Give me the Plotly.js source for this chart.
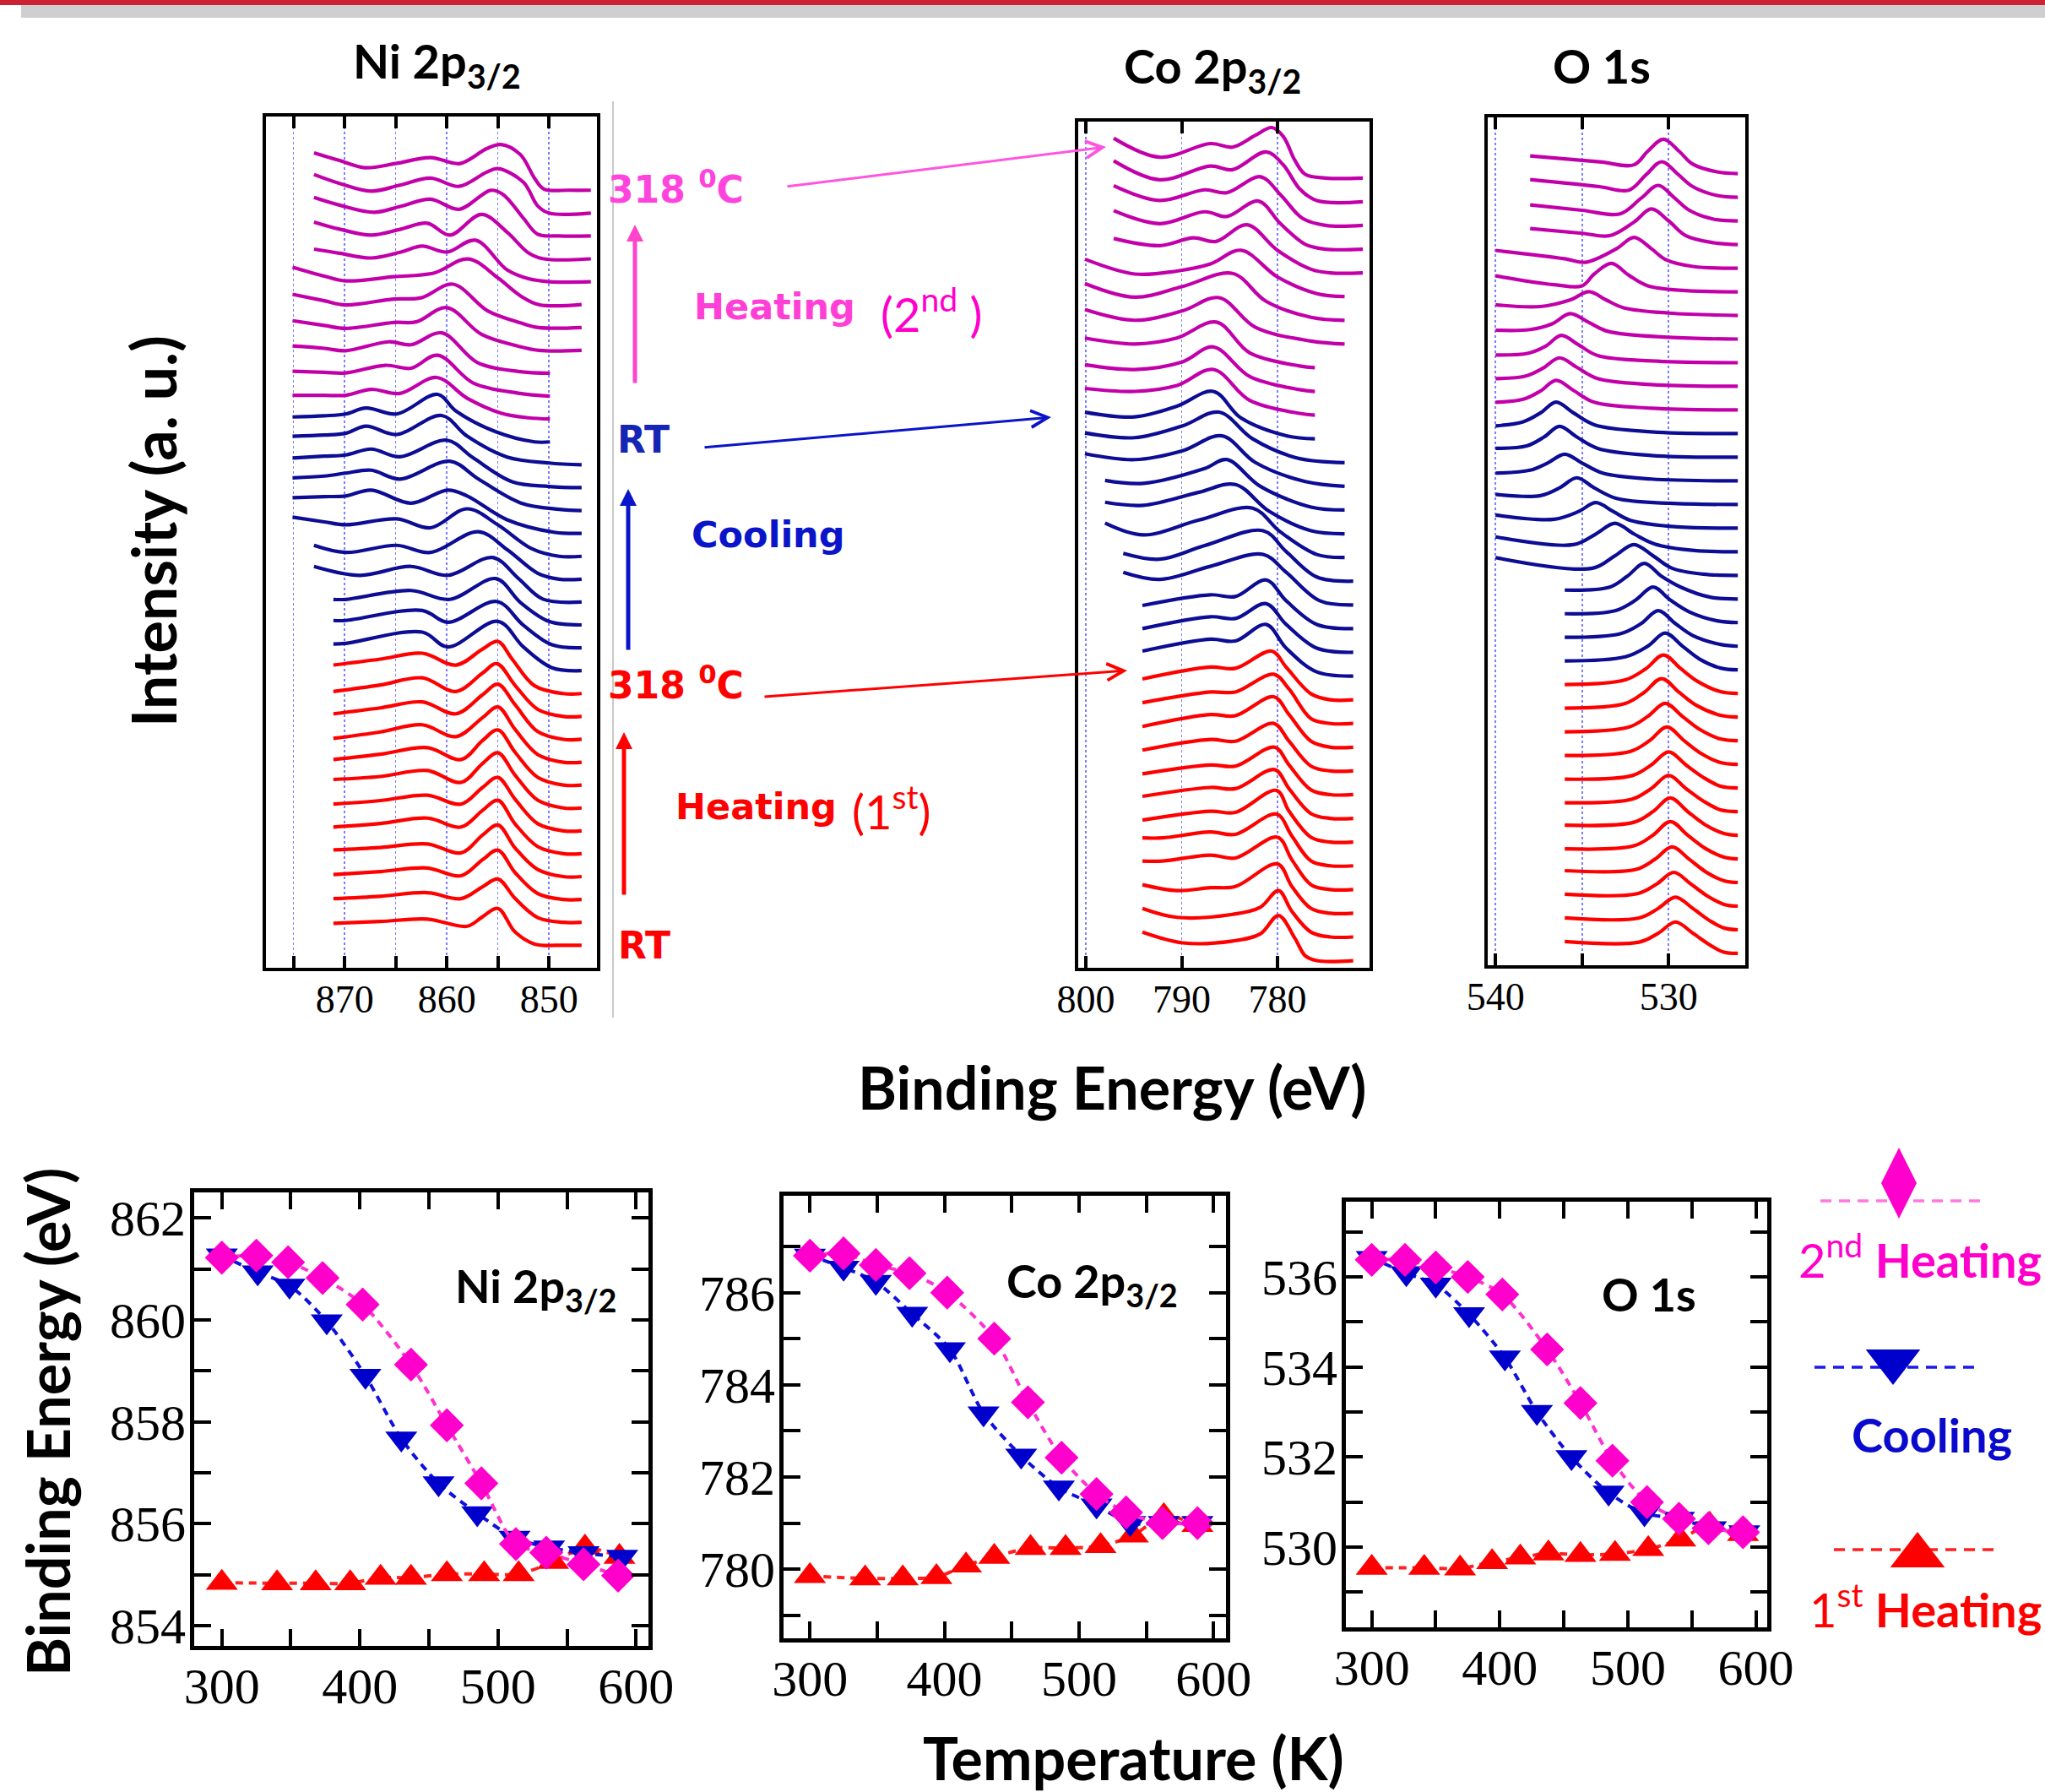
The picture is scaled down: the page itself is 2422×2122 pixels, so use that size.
<!DOCTYPE html>
<html><head><meta charset="utf-8">
<script src="https://cdn.plot.ly/plotly-3.0.1.min.js"></script>
<style>html,body{margin:0;padding:0;background:#fff;}#chart{width:2422px;height:2122px;}</style>
</head><body><div id="chart"></div>
<script>
// ---------------- DATA ----------------
// Stacked spectra, listed top to bottom: 11 x 2nd heating (318C at top ... RT), 11 x cooling (RT ... 318C), 12 x 1st heating (318C ... RT)
// each curve: flat list of [binding energy (eV), intensity above its own baseline (a.u.)]
const groupSizes = [11, 11, 12];
const groupNames = ['2nd Heating', 'Cooling', '1st Heating'];

const niKnots = [
 [873,6.3, 870.5,5.0, 868,3.8, 865,4.5, 861.6,5.5, 858.7,4.5, 856.1,7.0, 854.7,7.7, 852.8,6.0, 851.4,2.0, 850.5,0.2, 848,0, 845.9,0],
 [873,6.5, 870.5,5.0, 867.4,3.7, 864.6,4.7, 861.6,5.9, 858.8,4.5, 856.1,6.9, 855,7.5, 852.5,5.2, 851.1,1.2, 850,0, 845.9,0],
 [873,6.5, 870.5,5.2, 867.1,4.0, 864.5,5.0, 861.6,6.2, 858.8,4.5, 855.7,7.7, 854.5,7.0, 852.5,3.0, 851.1,0.3, 849,0, 845.9,0],
 [873,6.2, 870.5,5.0, 867.4,4.0, 864.5,5.0, 861.9,6.0, 859.7,4.0, 856.6,7.5, 854.1,4.5, 852,1.0, 850.5,0, 845.9,0],
 [873,5.5, 870.5,4.8, 867.4,4.0, 864.5,5.0, 862.4,6.0, 860,5.0, 857.2,7.0, 854.1,2.0, 852,0.5, 850,0, 845.9,0],
 [875.1,6.3, 872,4.8, 869.9,4.0, 865.2,4.7, 861.3,5.3, 857.9,7.7, 855,4.5, 852.8,1.5, 851,0, 846.8,0],
 [875.1,5.6, 872,4.5, 869.9,3.8, 865.2,4.8, 862.5,5.0, 859.4,7.3, 856,2.8, 852.8,0.8, 851,0, 846.8,0],
 [875.1,5.0, 872,4.2, 869.9,3.7, 865.2,4.7, 863,4.8, 860,7.2, 856.6,2.7, 853,0.7, 851,0, 846.8,0],
 [875.1,4.6, 872,4.2, 869.9,3.8, 865.7,5.3, 863.5,4.8, 860.5,6.8, 857,1.8, 853,0.3, 849.9,0],
 [875.1,4.2, 872,4.0, 869.9,3.9, 866,5.2, 863.5,4.7, 860.9,6.9, 857.4,2.2, 853,0.5, 849.9,0],
 [875.1,4.0, 872,4.0, 869.9,4.0, 867.4,5.0, 864.6,4.3, 861,7.0, 858,3.5, 854.7,1.0, 852,0.2, 849.9,0],
 [875.1,4.2, 872,4.4, 869.9,4.7, 867.9,5.7, 864.9,4.7, 860.9,8.0, 859.1,5.2, 855.2,1.7, 851.4,0, 849.9,0],
 [875.1,4.8, 872,5.0, 869.9,5.3, 867.9,6.5, 864.9,5.1, 860.5,8.3, 858,4.8, 854.1,1.3, 850,0.3, 846.8,0],
 [875.1,5.0, 872,5.3, 869.9,5.5, 867.4,6.5, 864.6,5.2, 860,8.0, 857.4,5.0, 853.6,1.0, 850,0.2, 846.8,0],
 [875.1,5.5, 872,5.8, 869.9,6.3, 867.4,6.8, 864.6,5.3, 859.7,8.3, 856.9,5.3, 852.8,1.3, 849,0.2, 846.8,0],
 [875.1,6.0, 872,6.2, 869.9,6.3, 867.4,7.3, 863.5,5.1, 859.9,7.3, 858,6.3, 854.1,2.3, 849.5,0.2, 846.8,0],
 [875.1,6.6, 872,5.8, 869.9,5.3, 864.9,6.3, 861.6,4.8, 858,8.0, 855,5.3, 851.7,1.3, 849,0, 846.8,0],
 [873,5.7, 869.9,4.5, 864.9,5.7, 861.6,4.5, 856.9,8.0, 854.1,5.0, 851.1,1.0, 849,0, 846.8,0],
 [873,6.0, 868.5,4.5, 863.5,6.0, 859.9,4.5, 855.5,7.5, 853,4.0, 850.6,0.5, 846.8,0],
 [871.1,4.3, 869.9,4.3, 863.5,5.8, 859.7,4.3, 855.2,7.8, 852.8,3.8, 850,0.6, 846.8,0],
 [871.1,4.6, 869.9,4.6, 862.4,6.3, 859.9,4.3, 855.1,7.8, 852.5,3.8, 849.7,0.5, 846.8,0],
 [871.1,4.5, 869.9,4.6, 862.4,6.5, 859.9,4.0, 855,8.3, 852.5,4.0, 849.7,0.5, 846.8,0],
 [871.1,4.8, 866.5,5.8, 862.4,6.8, 859.1,4.8, 856.5,7.5, 855,8.8, 853.6,5.8, 851.4,1.3, 848.6,0, 846.8,0],
 [871.1,4.2, 866.5,5.3, 862.4,6.5, 859.1,4.2, 856.5,7.3, 855.1,8.9, 853.3,5.2, 851.1,1.2, 848.6,0, 846.8,0],
 [871.1,4.3, 866.5,5.3, 862.4,6.3, 859.1,4.3, 856.5,7.5, 855,9.3, 853.3,5.8, 851.1,1.3, 848.6,0, 846.8,0],
 [871.1,4.0, 866.5,5.1, 862.4,6.3, 859.1,4.3, 856.5,7.5, 855,9.3, 853.3,5.5, 851.1,1.3, 848.6,0, 846.8,0],
 [871.1,4.3, 866.5,5.2, 861.9,6.3, 858.6,4.3, 856.5,7.5, 855,9.3, 853.3,5.5, 851.1,1.3, 848.6,0, 846.8,0],
 [871.1,4.8, 866.5,5.3, 861.9,6.3, 858.6,4.3, 856.5,7.5, 855,9.3, 853.3,5.5, 851.1,1.3, 848.6,0, 846.8,0],
 [871.1,4.5, 866.5,5.1, 861.9,6.0, 858.6,4.5, 856.5,7.3, 855,9.0, 853.3,5.3, 851.1,1.2, 848.6,0, 846.8,0],
 [871.1,4.5, 866.5,5.1, 861.9,6.0, 858.6,4.5, 856.5,7.3, 855,9.0, 853.3,5.0, 851.1,1.2, 848.6,0, 846.8,0],
 [871.1,4.5, 866.5,4.9, 861.9,5.5, 858.6,4.0, 856.5,7.0, 855,8.7, 853.3,4.8, 851.1,1.2, 848.6,0, 846.8,0],
 [871.1,4.2, 866.5,4.7, 861.9,5.3, 858.6,4.0, 856.5,6.7, 855,8.3, 853.3,4.5, 851.1,1.0, 848.6,0, 846.8,0],
 [871.1,4.0, 866.5,4.4, 861.9,5.0, 858.6,4.0, 856.5,6.0, 855,7.3, 853.3,4.0, 851.1,0.8, 848.6,0, 846.8,0],
 [871.1,3.7, 866.5,4.0, 861.9,4.4, 858,3.2, 856.5,4.8, 855,6.2, 853.3,2.2, 851.4,0.2, 848.6,0, 846.8,0]
];

const coKnots = [
 [797.1,6.7, 792.3,3.5, 787,5.8, 784.7,5.2, 782.3,7.2, 780.6,8.5, 779.4,7.0, 778.2,3.0, 777.1,0.6, 775,0, 771.1,0],
 [797.1,6.9, 792.3,3.7, 787,6.0, 784.7,5.4, 781.2,8.4, 779.4,6.2, 777.7,2.2, 775.9,0.2, 771.1,0],
 [797.1,6.7, 792.3,4.2, 787.6,6.0, 785.3,5.5, 781.8,8.2, 779.7,5.2, 777.4,1.2, 775,0, 771.1,0],
 [797.1,6.5, 792.3,4.3, 787.6,6.3, 785.3,5.5, 782,8.1, 779.7,4.3, 777.1,0.8, 775,0, 771.1,0],
 [797.1,5.8, 792.3,4.6, 788.8,5.9, 786.4,5.3, 783.2,8.1, 780,3.8, 776.5,0.6, 774.5,0, 771.1,0],
 [800.1,6.3, 794.9,3.8, 790.5,4.3, 787,5.5, 783.8,7.8, 780,3.3, 775.9,0.5, 773,0],
 [800.1,6.2, 794.9,3.9, 789.9,5.7, 784.7,7.9, 781.2,3.2, 776.5,0.5, 773,0],
 [800.1,5.8, 794.9,4.0, 789.9,5.6, 786.1,7.8, 782.3,2.8, 776.5,0.5, 773,0],
 [800.1,5.0, 794.9,4.0, 790.5,5.0, 786.4,7.7, 782.9,2.5, 777.7,0.3, 776.1,0],
 [800.1,4.5, 794.9,3.7, 789.9,5.0, 786.7,7.5, 782.9,2.5, 777.7,0.3, 776.1,0],
 [800.1,4.5, 794.9,4.0, 790.5,5.0, 786.7,7.7, 782.9,2.5, 777.7,0.3, 776.1,0],
 [800.1,4.5, 794.9,3.7, 790.5,5.5, 786.7,8.0, 783.8,3.5, 779,0.5, 776.1,0],
 [800.1,5.0, 794.9,4.2, 789.9,6.2, 786.1,8.5, 782.6,4.0, 778,0.8, 773,0],
 [800.1,5.5, 794.9,4.5, 789.9,6.0, 785.8,8.5, 782.3,4.0, 777.1,0.8, 773,0],
 [798,5.0, 794,4.5, 787.6,7.0, 785.3,8.5, 781.8,4.0, 776.5,0.5, 773,0],
 [798,5.3, 794,4.8, 788.2,7.0, 784.4,8.3, 780.9,3.8, 776.5,0.5, 773,0],
 [798,5.8, 794,3.8, 788.2,6.3, 782.6,8.3, 779.7,4.3, 775.9,0.5, 773,0],
 [796.1,4.7, 792.3,3.7, 787.6,6.0, 781.5,8.5, 779.1,5.0, 775.9,0.7, 772.1,0],
 [796.1,5.5, 792.3,4.3, 787,6.5, 781.5,8.5, 779.1,5.5, 775.6,0.7, 772.1,0],
 [794.1,3.9, 787,5.7, 784.4,5.4, 781.2,8.2, 779.1,4.7, 775.9,0.7, 772.1,0],
 [794.1,4.0, 787,6.0, 784.4,5.7, 781.2,8.2, 779.1,4.7, 775.9,0.7, 772.1,0],
 [794.1,4.2, 787,6.2, 784.4,5.9, 781.2,8.7, 779.1,4.7, 775.9,0.7, 772.1,0],
 [794.1,3.5, 787,5.5, 784.4,5.3, 780.6,8.2, 779.1,5.5, 776.5,1.0, 774.5,0, 772.1,0],
 [794.1,3.5, 787,5.3, 784.4,5.3, 780.4,8.3, 778.8,5.8, 776.5,0.8, 774.5,0, 772.1,0],
 [794.1,3.5, 787,5.5, 784.4,5.3, 780.4,8.5, 778.8,5.5, 776.5,1.0, 774.5,0, 772.1,0],
 [794.1,3.5, 787,5.3, 784.4,5.0, 780.4,8.0, 778.8,5.0, 776.5,0.8, 774.5,0, 772.1,0],
 [794.1,3.5, 787,5.0, 784.4,4.8, 780.3,8.0, 778.8,5.0, 776.5,0.8, 774.5,0, 772.1,0],
 [794.1,3.7, 787,5.2, 784.4,5.0, 780.3,8.2, 778.8,5.0, 776.5,0.8, 774.5,0, 772.1,0],
 [794.1,3.7, 787,5.2, 784.4,5.0, 780.1,8.7, 778.8,5.2, 776.5,0.8, 774.5,0, 772.1,0],
 [794.1,4.7, 792,4.7, 787,5.7, 784.4,5.3, 780.1,8.7, 778.5,5.0, 776.5,0.8, 774.5,0, 772.1,0],
 [794.1,4.8, 792,4.8, 787,5.8, 784.4,5.3, 780,8.8, 778.5,5.0, 776.5,0.8, 774.5,0, 772.1,0],
 [794.1,4.8, 790.5,3.8, 787,4.3, 784.4,4.5, 780,8.3, 778.5,4.5, 776.5,0.8, 774.5,0, 772.1,0],
 [794.1,4.8, 790.5,3.3, 784.7,3.8, 781.8,5.0, 779.9,7.8, 778.5,4.3, 776.5,0.8, 774.5,0, 772.1,0],
 [794.1,4.8, 789.9,3.0, 784.7,3.3, 781.8,4.5, 779.9,7.6, 778.2,3.8, 777.1,0.8, 775.9,0, 772.1,0]
];

const oKnots = [
 [538,3.0, 534,2.0, 532,1.5, 531.2,3.8, 530.3,5.8, 529.4,3.8, 528.6,1.6, 527.2,0.3, 526,0],
 [538,3.0, 534,1.8, 532.3,1.2, 531.3,3.8, 530.4,6.0, 529.5,4.0, 528.6,1.8, 527.2,0.3, 526,0],
 [538,2.7, 535,1.8, 532.8,1.2, 531.6,3.8, 530.6,6.0, 529.7,4.0, 528.8,1.8, 527.4,0.3, 526,0],
 [538,2.7, 535,1.9, 533.4,1.5, 532,3.8, 531,6.0, 530,4.0, 529,1.5, 527.4,0.3, 526,0],
 [540,3.0, 536,1.6, 534.8,1.0, 533,3.3, 532,5.2, 531,3.3, 530.2,1.5, 528.6,0.3, 526,0],
 [540,2.7, 536.6,1.2, 535,1.0, 534.3,3.0, 533.3,4.8, 532.3,2.8, 531.2,1.0, 529,0.2, 526,0],
 [540,1.8, 537.4,1.5, 535.7,2.6, 534.6,4.0, 533.6,2.6, 532.6,1.3, 530,0.4, 526,0],
 [540,1.5, 538,1.6, 536.7,2.6, 535.7,4.3, 534.6,2.8, 533.5,1.3, 530,0.3, 526,0],
 [540,1.3, 538.1,1.6, 537.1,2.8, 536.2,4.6, 535.2,3.0, 534.1,1.2, 531,0.3, 526,0],
 [540,1.3, 538.3,1.7, 537.3,3.0, 536.3,4.8, 535.3,3.2, 534.1,1.3, 531,0.3, 526,0],
 [540,1.3, 538.4,1.8, 537.4,3.2, 536.5,5.0, 535.5,3.3, 534.3,1.3, 531,0.3, 526,0],
 [540,1.3, 538.4,2.0, 537.4,3.5, 536.5,5.3, 535.5,3.5, 534.3,1.5, 531,0.3, 526,0],
 [540,1.5, 538.2,1.9, 537.2,3.4, 536.3,5.2, 535.3,3.4, 534.1,1.5, 531,0.3, 526,0],
 [540,1.3, 538,1.8, 537,3.0, 536,4.5, 535,3.0, 533.8,1.3, 531,0.3, 526,0],
 [540,1.7, 537.4,1.5, 536.3,2.8, 535.3,4.5, 534.3,2.8, 533,1.0, 530,0.2, 526,0],
 [540,2.2, 536.6,1.5, 535.2,2.8, 534.2,4.3, 533.2,2.8, 532.2,1.3, 529.5,0.2, 526,0],
 [540,2.5, 535.5,1.2, 534.2,3.0, 533.1,4.8, 532,3.0, 530.8,1.3, 528.5,0.2, 526,0],
 [540,3.0, 534.4,1.2, 533.1,3.3, 532,5.2, 530.9,3.3, 529.8,1.2, 528,0.2, 526,0],
 [536,1.5, 533.4,2.0, 532.4,3.8, 531.4,6.0, 530.4,3.8, 529.3,2.0, 527.6,0.3, 526,0],
 [536,1.5, 533.1,2.0, 531.9,3.8, 530.9,6.0, 529.9,3.8, 528.8,1.8, 527.2,0.3, 526,0],
 [536,1.5, 532.8,2.1, 531.6,3.8, 530.6,6.0, 529.6,3.8, 528.6,1.8, 527,0.3, 526,0],
 [536,1.5, 532.5,2.2, 531.2,4.0, 530.2,6.2, 529.2,4.0, 528.2,1.8, 527,0.3, 526,0],
 [536,1.5, 532.5,2.3, 531.3,4.2, 530.3,6.5, 529.3,4.2, 528.3,2.0, 527,0.3, 526,0],
 [536,1.5, 532.5,2.3, 531.4,4.2, 530.4,6.5, 529.4,4.2, 528.4,2.0, 527,0.3, 526,0],
 [536,1.5, 532.3,2.3, 531.2,4.1, 530.2,6.3, 529.2,4.1, 528.2,1.9, 527,0.3, 526,0],
 [536,1.5, 532.2,2.2, 531.1,4.0, 530.1,6.3, 529.1,4.0, 528.1,1.8, 527,0.3, 526,0],
 [536,1.5, 532.1,2.1, 531,3.9, 530,6.1, 529,3.9, 528,1.8, 527,0.3, 526,0],
 [536,1.5, 532.1,2.1, 531,3.9, 530,6.1, 529,3.9, 528,1.8, 527,0.3, 526,0],
 [536,1.7, 532,2.2, 530.9,4.0, 529.9,6.3, 528.9,4.0, 527.9,1.8, 526.8,0.3, 526,0],
 [536,1.7, 532,2.2, 530.9,4.0, 529.9,6.3, 528.9,4.0, 527.9,1.8, 526.8,0.3, 526,0],
 [536,2.0, 531.9,2.2, 530.8,3.9, 529.8,6.0, 528.8,3.9, 527.8,1.7, 526.8,0.3, 526,0],
 [536,2.0, 531.8,2.1, 530.7,3.7, 529.7,5.7, 528.7,3.7, 527.7,1.6, 526.8,0.3, 526,0],
 [536,2.0, 531.7,2.0, 530.6,3.6, 529.6,5.5, 528.6,3.6, 527.6,1.5, 526.8,0.3, 526,0],
 [536,2.0, 531.7,1.9, 530.6,3.4, 529.6,5.3, 528.6,3.4, 527.6,1.4, 526.8,0.2, 526,0]
];

// Peak binding energy vs temperature (K)
const niHeat1T  = [300, 340, 368, 393, 415, 437, 463, 490, 515, 540, 563, 588];
const niHeat1BE = [854.84, 854.83, 854.83, 854.83, 854.94, 854.94, 855.01, 855.01, 855.01, 855.25, 855.53, 855.35];
const niCoolT   = [300, 326, 349, 376, 404, 430, 457, 485, 512, 537, 562, 590];
const niCoolBE  = [861.26, 860.93, 860.67, 859.97, 858.9, 857.67, 856.79, 856.2, 855.72, 855.53, 855.42, 855.35];
const niHeat2T  = [300, 325, 348, 373, 402, 437, 463, 488, 513, 535, 562, 587];
const niHeat2BE = [861.22, 861.26, 861.13, 860.82, 860.3, 859.12, 857.93, 856.79, 855.6, 855.43, 855.2, 854.98];

const coHeat1T  = [300, 341, 369, 394, 416, 437, 464, 490, 516, 540, 563, 588];
const coHeat1BE = [779.85, 779.8, 779.8, 779.83, 780.08, 780.27, 780.46, 780.46, 780.5, 780.73, 781.15, 780.96];
const coCoolT   = [300, 325, 349, 376, 404, 429, 457, 485, 513, 538, 563, 588];
const coCoolBE  = [786.8, 786.54, 786.23, 785.54, 784.77, 783.38, 782.46, 781.77, 781.38, 781.0, 781.0, 781.0];
const coHeat2T  = [300, 325, 349, 374, 402, 437, 462, 487, 513, 535, 562, 588];
const coHeat2BE = [786.8, 786.85, 786.6, 786.42, 786.0, 785.0, 783.62, 782.42, 781.63, 781.23, 781.0, 781.0];

const oHeat1T  = [300, 341, 369, 394, 416, 438, 463, 490, 516, 541, 564, 590];
const oHeat1BE = [529.54, 529.54, 529.53, 529.67, 529.77, 529.86, 529.83, 529.85, 529.96, 530.17, 530.5, 530.29];
const oCoolT   = [300, 327, 350, 376, 404, 429, 456, 485, 513, 540, 565, 591];
const oCoolBE  = [536.42, 536.08, 535.83, 535.17, 534.21, 533.0, 532.0, 531.21, 530.75, 530.63, 530.42, 530.33];
const oHeat2T  = [300, 326, 350, 375, 402, 437, 463, 488, 515, 540, 563, 590];
const oHeat2BE = [536.38, 536.38, 536.21, 536.0, 535.61, 534.39, 533.2, 531.92, 531.0, 530.63, 530.42, 530.33];

// Tick values / labels
const niSpecTicks = [875, 870, 865, 860, 855, 850];
const niSpecLabels = ['', '870', '', '860', '', '850'];
const coSpecTicks = [800, 790, 780];
const coSpecLabels = ['800', '790', '780'];
const oSpecTicks = [540, 535, 530];
const oSpecLabels = ['540', '', '530'];
const tempTicks = [300, 350, 400, 450, 500, 550, 600];
const tempLabels = ['300', '', '400', '', '500', '', '600'];
const niBETicks = [854, 855, 856, 857, 858, 859, 860, 861, 862];
const niBELabels = ['854', '', '856', '', '858', '', '860', '', '862'];
const coBETicks = [779, 780, 781, 782, 783, 784, 785, 786, 787];
const coBELabels = ['', '780', '', '782', '', '784', '', '786', ''];
const oBETicks = [529, 530, 531, 532, 533, 534, 535, 536, 537];
const oBELabels = ['', '530', '', '532', '', '534', '', '536', ''];

// ---------------- LAYOUT / DRAW ----------------
const W = 2422, H = 2122;
const PX = v => v / W, PY = v => 1 - v / H;
const SPEC_COL = ['#c200aa', '#0c0c94', '#ff0000'];
const MAG = '#ff00cc', BLU = '#0000cc', RED = '#ff0000';

function groupOf(i) { let s = 0; for (let g = 0; g < groupSizes.length; g++) { s += groupSizes[g]; if (i < s) return g; } return groupSizes.length - 1; }

const traces = [];
function addStack(knots, xa, ya, step) {
  const n = knots.length;
  knots.forEach((flat, i) => {
    const x = [], y = [], off = (n - 1 - i) * step;
    for (let k = 0; k < flat.length; k += 2) { x.push(flat[k]); y.push(flat[k + 1] + off); }
    traces.push({type: 'scatter', mode: 'lines', x, y, xaxis: xa, yaxis: ya, hoverinfo: 'skip',
      name: groupNames[groupOf(i)],
      line: {color: SPEC_COL[groupOf(i)], width: 4.2, shape: 'spline', smoothing: 1}});
  });
}
addStack(niKnots, 'x', 'y', 3.855);
addStack(coKnots, 'x2', 'y2', 3.994);
addStack(oKnots, 'x3', 'y3', 3.985);

function addSeries(T, BE, color, lineColor, symbol, size, xa, ya, name) {
  traces.push({type: 'scatter', mode: 'lines+markers', x: T, y: BE, xaxis: xa, yaxis: ya, name,
    line: {color: lineColor, width: 4, dash: '9px,7px', shape: 'spline', smoothing: 0.8},
    marker: {symbol, size, color, line: {width: 0}}});
}
[['x4', 'y4', niHeat1T, niHeat1BE, niCoolT, niCoolBE, niHeat2T, niHeat2BE],
 ['x5', 'y5', coHeat1T, coHeat1BE, coCoolT, coCoolBE, coHeat2T, coHeat2BE],
 ['x6', 'y6', oHeat1T, oHeat1BE, oCoolT, oCoolBE, oHeat2T, oHeat2BE]].forEach(p => {
  addSeries(p[2], p[3], RED, '#ff2020', 'triangle-up', 33, p[0], p[1], '1st Heating');
  addSeries(p[4], p[5], BLU, '#1010dd', 'triangle-down', 33, p[0], p[1], 'Cooling');
  addSeries(p[6], p[7], MAG, '#ff30d0', 'diamond', 31, p[0], p[1], '2nd Heating');
});

// custom legend keys (hidden axis in page-pixel coordinates)
function legendKey(x0, x1, yl, xm, ym, color, lcolor, symbol, size) {
  traces.push({type: 'scatter', mode: 'lines', x: [x0, x1], y: [yl, yl], xaxis: 'x7', yaxis: 'y7', hoverinfo: 'skip',
    line: {color: lcolor, width: 3.5, dash: '13px,9px'}});
  traces.push({type: 'scatter', mode: 'markers', x: [xm], y: [ym], xaxis: 'x7', yaxis: 'y7', hoverinfo: 'skip',
    marker: {symbol, size, color}});
}
legendKey(2156, 2345, 1422, 2249, 1401, MAG, '#ff77e0', 'diamond-tall', 60);
legendKey(2149, 2338, 1619, 2242, 1612, BLU, '#1a1aee', 'triangle-down', 56);
legendKey(2172, 2366, 1835, 2271, 1842, RED, '#ff2020', 'triangle-up', 56);

function specX(l, r, range, tv, tt, anchor) {
  return {domain: [PX(l), PX(r)], range, anchor, tickmode: 'array', tickvals: tv, ticktext: tt,
    ticks: 'inside', ticklen: 14, tickwidth: 4, tickcolor: '#000', showline: true, linewidth: 4, linecolor: '#000',
    mirror: 'ticks', showgrid: true, gridcolor: '#7d7dff', griddash: 'dot', gridwidth: 1.6, zeroline: false,
    tickfont: {family: 'Liberation Serif', size: 46, color: '#000'}, ticklabelstandoff: -6, fixedrange: true};
}
function specY(t, b, range, anchor) {
  return {domain: [PY(b), PY(t)], range, anchor, showticklabels: false, ticks: '', showline: true, linewidth: 4,
    linecolor: '#000', mirror: true, showgrid: false, zeroline: false, fixedrange: true};
}
function plotX(l, r, range, anchor) {
  return {domain: [PX(l), PX(r)], range, anchor, tickmode: 'array', tickvals: tempTicks, ticktext: tempLabels,
    ticks: 'inside', ticklen: 20, tickwidth: 4, tickcolor: '#000', showline: true, linewidth: 5, linecolor: '#000',
    mirror: 'ticks', showgrid: false, zeroline: false, ticklabelstandoff: -9,
    tickfont: {family: 'Liberation Serif', size: 60, color: '#000'}, fixedrange: true};
}
function plotY(t, b, range, tv, tt, anchor) {
  return {domain: [PY(b), PY(t)], range, anchor, tickmode: 'array', tickvals: tv, ticktext: tt,
    ticks: 'inside', ticklen: 20, tickwidth: 4, tickcolor: '#000', showline: true, linewidth: 5, linecolor: '#000',
    mirror: 'ticks', showgrid: false, zeroline: false, ticklabelstandoff: -7,
    tickfont: {family: 'Liberation Serif', size: 60, color: '#000'}, fixedrange: true};
}

const ann = [];
function T(text, x, y, size, color, family, extra) {
  ann.push(Object.assign({text, x: PX(x), y: PY(y), xref: 'paper', yref: 'paper', showarrow: false,
    xanchor: 'center', yanchor: 'middle', font: {family: family || 'Lato', size, color: color || '#000'}}, extra || {}));
}
function arrow(hx, hy, tx, ty, color, width, head, size) {
  ann.push({text: '', x: PX(hx), y: PY(hy), xref: 'paper', yref: 'paper', showarrow: true, ax: tx - hx, ay: ty - hy,
    axref: 'pixel', ayref: 'pixel', arrowcolor: color, arrowwidth: width, arrowhead: head, arrowsize: size, standoff: 0, startstandoff: 0});
}
// titles
T('<b>Ni 2p<sub>3/2</sub></b>', 517, 76, 56);
T('<b>Co 2p<sub>3/2</sub></b>', 1436, 82, 56);
T('<b>O 1s</b>', 1897, 77, 56);
T('<b>Intensity (a. u.)</b>', 181, 629, 72, '#000', 'Lato', {textangle: -90});
T('<b>Binding Energy (eV)</b>', 1317, 1287, 70);
T('<b>Binding Energy (eV)</b>', 56, 1684, 70, '#000', 'Lato', {textangle: -90});
T('<b>Temperature (K)</b>', 1342, 2081, 70);
T('<b>Ni 2p<sub>3/2</sub></b>', 635, 1526, 54);
T('<b>Co 2p<sub>3/2</sub></b>', 1293, 1520, 54);
T('<b>O 1s</b>', 1953, 1532, 54);
// middle process labels
T('<b>318 <sup>0</sup>C</b>', 800, 221, 44, '#ff44dd', 'DejaVu Sans');
T('<b>Heating</b>', 917, 363, 43, '#ff3fd5', 'DejaVu Sans');
T('(2<sup>nd</sup> )', 1103, 368, 56, '#ff00cc', 'Lato');
T('<b>RT</b>', 762, 521, 44, '#1525b5', 'DejaVu Sans');
T('<b>Cooling</b>', 910, 633, 43, '#0a14c8', 'DejaVu Sans');
T('<b>318 <sup>0</sup>C</b>', 800, 808, 44, '#ff0000', 'DejaVu Sans');
T('<b>Heating</b>', 895, 955, 43, '#ff0000', 'DejaVu Sans');
T('(1<sup>st</sup>)', 1055, 956, 56, '#ff0000', 'Lato');
T('<b>RT</b>', 763, 1119, 44, '#ff0000', 'DejaVu Sans');
// legend labels
T('2<sup>nd</sup> <b>Heating</b>', 2274, 1487, 56, MAG);
T('<b>Cooling</b>', 2288, 1698, 56, '#0a0acc');
T('1<sup>st</sup> <b>Heating</b>', 2280, 1901, 56, RED);
// arrows
arrow(1310, 174, 931, 221, '#ff55dd', 3, 5, 1.3);
arrow(1245, 494, 833, 530, '#0a14c8', 3, 5, 1.3);
arrow(1335, 794, 904, 825, '#ff0000', 3, 5, 1.3);
arrow(752, 266, 752, 455, '#ff44cc', 5, 2, 0.8);
arrow(744, 579, 744, 771, '#0a14c8', 5, 2, 0.8);
arrow(739, 867, 739, 1061, '#ff0000', 5, 2, 0.8);

const shapes = [
  {type: 'rect', xref: 'paper', yref: 'paper', x0: 0, x1: 1, y0: PY(6), y1: 1, fillcolor: '#cc2233', line: {width: 0}},
  {type: 'rect', xref: 'paper', yref: 'paper', x0: PX(25), x1: 1, y0: PY(21), y1: PY(6), fillcolor: '#d0cfd0', line: {width: 0}},
  {type: 'line', xref: 'paper', yref: 'paper', x0: PX(726), x1: PX(726), y0: PY(120), y1: PY(1205), line: {color: '#c8c8c8', width: 2}}
];

const layout = {
  width: W, height: H, autosize: false, margin: {l: 0, r: 0, t: 0, b: 0, pad: 0},
  paper_bgcolor: '#fff', plot_bgcolor: 'rgba(0,0,0,0)', showlegend: false,
  xaxis: specX(315, 707, [877.7, 845.3], niSpecTicks, niSpecLabels, 'y'),
  yaxis: specY(137.5, 1146, [-3.8, 139.7], 'x'),
  xaxis2: specX(1277, 1622, [800.8, 770.4], coSpecTicks, coSpecLabels, 'y2'),
  yaxis2: specY(144, 1146, [-1.2, 141.3], 'x2'),
  xaxis3: specX(1762, 2067, [540.45, 525.57], oSpecTicks, oSpecLabels, 'y3'),
  yaxis3: specY(139, 1143, [-2.0, 141.0], 'x3'),
  xaxis4: plotX(230, 768, [280, 609], 'y4'),
  yaxis4: plotY(1412, 1949, [853.6, 862.5], niBETicks, niBELabels, 'x4'),
  xaxis5: plotX(928, 1452, [280.4, 609.2], 'y5'),
  yaxis5: plotY(1416, 1940, [778.5, 788.1], coBETicks, coBELabels, 'x5'),
  xaxis6: plotX(1594, 2093, [279.8, 608.9], 'y6'),
  yaxis6: plotY(1423, 1927, [528.22, 537.67], oBETicks, oBELabels, 'x6'),
  xaxis7: {domain: [PX(2100), 1], range: [2100, 2422], visible: false, anchor: 'y7', fixedrange: true},
  yaxis7: {domain: [PY(1960), PY(1340)], range: [1960, 1340], visible: false, anchor: 'x7', fixedrange: true},
  annotations: ann, shapes
};
Plotly.newPlot('chart', traces, layout, {staticPlot: true, displayModeBar: false});
</script></body></html>
